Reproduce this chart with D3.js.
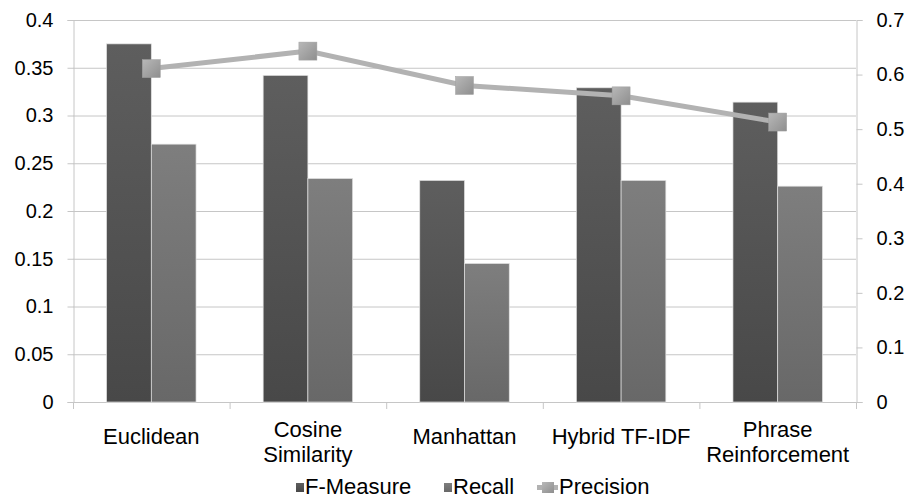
<!DOCTYPE html>
<html lang="en">
<head>
<meta charset="UTF-8" />
<title>Chart</title>
<script src="https://cdn.jsdelivr.net/npm/d3@7"></script>
<style>
  body { margin: 0; background: #fff; }
  text { font-family: "Liberation Sans", Arial, sans-serif; fill: #000; }
</style>
</head>
<body>
<script>
// data
let categories = ["Euclidean", "Cosine Similarity", "Manhattan", "Hybrid TF-IDF", "Phrase Reinforcement"];
let categoryLines = [["Euclidean"], ["Cosine", "Similarity"], ["Manhattan"], ["Hybrid TF-IDF"], ["Phrase", "Reinforcement"]];
let fMeasure = [0.375, 0.342, 0.232, 0.329, 0.314];
let recall = [0.270, 0.234, 0.145, 0.232, 0.226];
let precision = [0.611, 0.643, 0.580, 0.561, 0.513];
let leftTicks = [0, 0.05, 0.1, 0.15, 0.2, 0.25, 0.3, 0.35, 0.4];
let rightTicks = [0, 0.1, 0.2, 0.3, 0.4, 0.5, 0.6, 0.7];
let seriesNames = ["F-Measure", "Recall", "Precision"];

let width = 910, height = 500;
let plotL = 73, plotR = 856, plotT = 20, plotB = 402;

let svg = d3.select("body").append("svg")
  .attr("width", width)
  .attr("height", height);

let defs = svg.append("defs");
function grad(id, c1, c2, vertical) {
  let g = defs.append("linearGradient").attr("id", id)
    .attr("x1", 0).attr("y1", 0).attr("x2", vertical ? 0 : 1).attr("y2", 1);
  g.append("stop").attr("offset", "0%").attr("stop-color", c1);
  g.append("stop").attr("offset", "100%").attr("stop-color", c2);
}
grad("gF", "#5e5e5e", "#484848", true);
grad("gR", "#7e7e7e", "#686868", true);
grad("gM", "#b8b8b8", "#8e8e8e", false);

let x = d3.scaleBand().domain(categories).range([plotL, plotR]);
let bw = x.bandwidth() / 3.5;
let yL = d3.scaleLinear().domain([0, 0.4]).range([plotB, plotT]);
let yR = d3.scaleLinear().domain([0, 0.7]).range([plotB, plotT]);

// gridlines
svg.append("g").selectAll("line").data(leftTicks.slice(1)).enter().append("line")
  .attr("x1", plotL).attr("x2", plotR)
  .attr("y1", d => yL(d) + 0.5).attr("y2", d => yL(d) + 0.5)
  .attr("stroke", "#c6c6c6").attr("stroke-width", 1);

// left axis
let axL = svg.append("g").attr("transform", `translate(${plotL + 0.5},0)`)
  .call(d3.axisLeft(yL).tickValues(leftTicks).tickSize(6).tickPadding(14).tickFormat(d => String(d)));
axL.select(".domain").attr("stroke", "#c6c6c6");
axL.selectAll(".tick line").attr("stroke", "#c6c6c6");
axL.selectAll("text").style("font-size", "20px").attr("fill", "#000");

// right axis
let axR = svg.append("g").attr("transform", `translate(${plotR + 0.5},0)`)
  .call(d3.axisRight(yR).tickValues(rightTicks).tickSize(6).tickPadding(14).tickFormat(d => String(d)));
axR.select(".domain").attr("stroke", "#c6c6c6");
axR.selectAll(".tick line").attr("stroke", "#c6c6c6");
axR.selectAll("text").style("font-size", "20px").attr("fill", "#000");

// bottom axis line
svg.append("line").attr("x1", plotL).attr("x2", plotR)
  .attr("y1", plotB + 0.5).attr("y2", plotB + 0.5).attr("stroke", "#c6c6c6");
svg.append("g").selectAll("line").data(categories.concat(["end"])).enter().append("line")
  .attr("x1", (d, i) => plotL + i * x.step() + 0.5).attr("x2", (d, i) => plotL + i * x.step() + 0.5)
  .attr("y1", plotB).attr("y2", plotB + 7).attr("stroke", "#c6c6c6");

// bars
svg.append("g").selectAll("rect").data(fMeasure).enter().append("rect")
  .attr("x", (d, i) => x(categories[i]) + bw * 0.75)
  .attr("y", d => yL(d))
  .attr("width", bw)
  .attr("height", d => plotB - yL(d))
  .attr("fill", "url(#gF)").attr("stroke", "#e0e0e0").attr("stroke-width", 0.7);
svg.append("g").selectAll("rect").data(recall).enter().append("rect")
  .attr("x", (d, i) => x(categories[i]) + bw * 1.75)
  .attr("y", d => yL(d))
  .attr("width", bw)
  .attr("height", d => plotB - yL(d))
  .attr("fill", "url(#gR)").attr("stroke", "#e0e0e0").attr("stroke-width", 0.7);

// precision line
let cx = (d, i) => x(categories[i]) + x.bandwidth() / 2;
svg.append("path").datum(precision)
  .attr("d", d3.line().x(cx).y(d => yR(d)))
  .attr("fill", "none").attr("stroke", "#b2b2b2").attr("stroke-width", 5);
svg.append("g").selectAll("rect").data(precision).enter().append("rect")
  .attr("x", (d, i) => cx(d, i) - 9)
  .attr("y", d => yR(d) - 9)
  .attr("width", 18).attr("height", 18)
  .attr("fill", "url(#gM)").attr("stroke", "#a0a0a0").attr("stroke-width", 0.5);

// category labels
let lab = svg.append("g").selectAll("text").data(categoryLines).enter().append("text")
  .attr("x", (d, i) => cx(d, i))
  .attr("y", d => d.length > 1 ? 437 : 444)
  .attr("text-anchor", "middle")
  .style("font-size", "22px");
lab.selectAll("tspan").data(d => d).enter().append("tspan")
  .attr("x", function () { return this.parentNode.getAttribute("x"); })
  .attr("dy", (d, i) => i === 0 ? 0 : 24.5)
  .text(d => d);

// legend
let legendX = [296, 444, 537];
let leg = svg.append("g");
seriesNames.forEach((name, i) => {
  let g = leg.append("g").attr("transform", `translate(${legendX[i]},494)`);
  if (i < 2) {
    g.append("rect").attr("x", 0).attr("y", -11).attr("width", 8).attr("height", 9)
      .attr("fill", i === 0 ? "url(#gF)" : "url(#gR)");
  } else {
    g.append("line").attr("x1", 0).attr("x2", 21).attr("y1", -6.5).attr("y2", -6.5)
      .attr("stroke", "#b2b2b2").attr("stroke-width", 5);
    g.append("rect").attr("x", 5).attr("y", -12).attr("width", 12).attr("height", 11)
      .attr("fill", "url(#gM)");
  }
  g.append("text").attr("x", i < 2 ? 9 : 22).attr("y", 0).style("font-size", "22px").text(name);
});
</script>
</body>
</html>
